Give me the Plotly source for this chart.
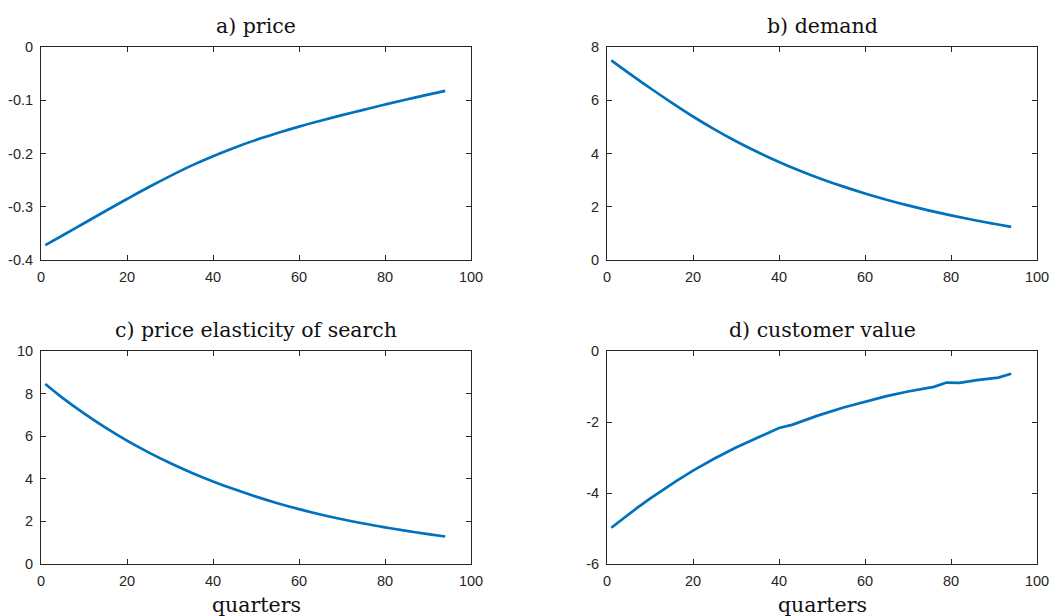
import plotly.graph_objects as go

# ---------------- data ----------------
quarters = [1, 5, 10, 15, 20, 25, 30, 35, 40, 45, 50, 55, 60, 65, 70, 75, 80, 85, 90, 94]

price = [-0.372, -0.354, -0.331, -0.308, -0.2855, -0.2635, -0.2425, -0.2228, -0.205, -0.189,
         -0.1745, -0.1615, -0.1495, -0.1385, -0.128, -0.118, -0.108, -0.0985, -0.0895, -0.0825]

demand = [7.50, 7.03, 6.46, 5.915, 5.39, 4.905, 4.46, 4.055, 3.685, 3.345,
          3.035, 2.755, 2.50, 2.265, 2.05, 1.855, 1.675, 1.51, 1.36, 1.245]

elasticity = [8.45, 7.80, 7.07, 6.40, 5.79, 5.24, 4.74, 4.285, 3.875, 3.505,
              3.165, 2.855, 2.575, 2.325, 2.10, 1.90, 1.72, 1.555, 1.405, 1.29]

quarters_cv = [1, 4, 7, 10, 13, 16, 20, 25, 30, 34, 37, 40, 43, 49, 55, 60, 65, 70, 76,
               79, 82, 86, 91, 94]
customer_value = [-4.98, -4.69, -4.42, -4.16, -3.91, -3.67, -3.37, -3.03, -2.72, -2.50, -2.35,
                  -2.17, -2.08, -1.82, -1.59, -1.42, -1.27, -1.14, -1.01,
                  -0.89, -0.90, -0.82, -0.75, -0.64]

titles = ["a) price", "b) demand", "c) price elasticity of search", "d) customer value"]
x_label = "quarters"

x_ticks = [0, 20, 40, 60, 80, 100]
x_ticktext = ["0", "20", "40", "60", "80", "100"]

y_ticks_a = [-0.4, -0.3, -0.2, -0.1, 0]
y_text_a = ["-0.4", "-0.3", "-0.2", "-0.1", "0"]
y_ticks_b = [0, 2, 4, 6, 8]
y_text_b = ["0", "2", "4", "6", "8"]
y_ticks_c = [0, 2, 4, 6, 8, 10]
y_text_c = ["0", "2", "4", "6", "8", "10"]
y_ticks_d = [-6, -4, -2, 0]
y_text_d = ["-6", "-4", "-2", "0"]

# ---------------- styling ----------------
W, H = 1050, 616
LINE_COLOR = "#0072BD"
AX_COLOR = "#262626"
TICK_FONT = dict(family="Liberation Sans", size=14.5, color=AX_COLOR)
SERIF = "DejaVu Serif"

# pixel boxes of the four axes (left, right, top, bottom)
boxes = [(41, 471, 47, 260), (607, 1037, 47, 260), (41, 471, 351, 564), (607, 1037, 351, 564)]

def xdom(b):
    return [b[0] / W, b[1] / W]

def ydom(b):
    return [(H - b[3]) / H, (H - b[2]) / H]

series = [
    (quarters, price, [-0.4, 0], y_ticks_a, y_text_a, "spline"),
    (quarters, demand, [0, 8], y_ticks_b, y_text_b, "spline"),
    (quarters, elasticity, [0, 10], y_ticks_c, y_text_c, "spline"),
    (quarters_cv, customer_value, [-6, 0], y_ticks_d, y_text_d, "linear"),
]

fig = go.Figure()
layout = dict(
    template="none",
    width=W, height=H, autosize=False,
    margin=dict(l=0, r=0, t=0, b=0, pad=0),
    paper_bgcolor="white", plot_bgcolor="white",
    showlegend=False,
    annotations=[],
)

for i, (xs, ys, yr, yt, ytt, shape) in enumerate(series):
    n = "" if i == 0 else str(i + 1)
    fig.add_trace(go.Scatter(
        x=xs, y=ys, mode="lines",
        line=dict(color=LINE_COLOR, width=2.7, shape=shape),
        xaxis="x" + n, yaxis="y" + n, hoverinfo="skip",
    ))
    b = boxes[i]
    common = dict(
        showline=True, mirror="ticks", linecolor=AX_COLOR, linewidth=1,
        ticks="inside", ticklen=5, tickcolor=AX_COLOR, tickwidth=1,
        showgrid=False, zeroline=False, tickfont=TICK_FONT, automargin=False,
    )
    layout["xaxis" + n] = dict(
        domain=xdom(b), range=[0, 100], tickmode="array",
        tickvals=x_ticks, ticktext=x_ticktext, anchor="y" + n,
        ticklabelstandoff=4, **common,
    )
    layout["yaxis" + n] = dict(
        domain=ydom(b), range=yr, tickmode="array",
        tickvals=yt, ticktext=ytt, anchor="x" + n,
        ticklabelstandoff=4, **common,
    )
    cx = (b[0] + b[1]) / 2 / W
    layout["annotations"].append(dict(
        text=titles[i], x=cx, y=(H - (b[2] - 21)) / H,
        xref="paper", yref="paper", xanchor="center", yanchor="middle",
        showarrow=False, font=dict(family=SERIF, size=20.5, color="#111111"),
    ))
    if i >= 2:
        layout["annotations"].append(dict(
            text=x_label, x=cx, y=(H - 605) / H,
            xref="paper", yref="paper", xanchor="center", yanchor="middle",
            showarrow=False, font=dict(family=SERIF, size=20.5, color="#111111"),
        ))

fig.update_layout(**layout)
fig.write_html("out.html")
